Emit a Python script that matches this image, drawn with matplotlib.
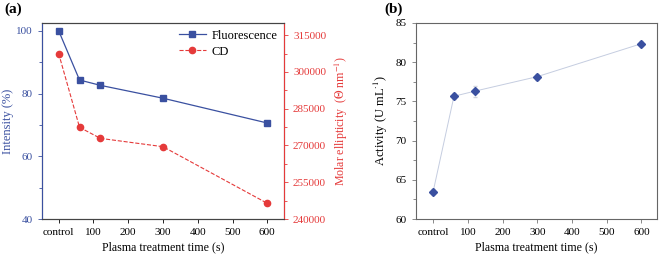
import matplotlib
matplotlib.use("Agg")
import matplotlib.pyplot as plt
from matplotlib.ticker import MultipleLocator

plt.rcParams['font.family'] = ['Liberation Serif', 'DejaVu Serif']
plt.rcParams['mathtext.fontset'] = 'stix'

time_s = [0, 60, 120, 300, 600]
xtick_pos = [0, 100, 200, 300, 400, 500, 600]
xtick_labels = ['control', '100', '200', '300', '400', '500', '600']
fluorescence = [100.0, 84.3, 82.6, 78.5, 70.6]
cd = [307500, 277400, 272900, 269500, 246400]
activity = [63.5, 75.65, 76.3, 78.15, 82.35]
activity_err = [0.3, 0.4, 0.7, 0.4, 0.3]

blue = '#3a50a0'
red = '#e53a3a'
spine_gray = '#444444'

fig = plt.figure(figsize=(6.6, 2.56), dpi=100)
ax1 = fig.add_axes([0.0636, 0.1445, 0.3667, 0.766])
ax2 = ax1.twinx()
ax3 = fig.add_axes([0.630, 0.1445, 0.3655, 0.766])

fs_tick = 8
fs_lab = 8.6

l1, = ax1.plot(time_s, fluorescence, color=blue, marker='s', ms=4.5, lw=0.9, label='Fluorescence')
l2, = ax2.plot(time_s, cd, color=red, marker='o', ms=4.5, lw=0.8, ls='--', label='CD')
ax1.set_xlim(-48, 648)
ax1.set_ylim(40, 102.5)
ax2.set_ylim(240000, 320000)
ax1.yaxis.set_major_locator(MultipleLocator(20))
ax1.yaxis.set_minor_locator(MultipleLocator(10))
ax2.yaxis.set_major_locator(MultipleLocator(15000))
ax2.yaxis.set_minor_locator(MultipleLocator(7500))
ax1.set_xticks(xtick_pos)
ax1.set_xticklabels(xtick_labels)
ax1.tick_params(axis='x', direction='out', length=3, width=0.6, labelsize=fs_tick, colors='black')
ax1.tick_params(axis='y', which='both', direction='out', width=0.6, labelsize=fs_tick, colors=blue)
ax1.tick_params(axis='y', which='major', length=3)
ax1.tick_params(axis='y', which='minor', length=2)
ax2.tick_params(axis='y', which='both', direction='out', width=0.6, labelsize=fs_tick, colors=red)
ax2.tick_params(axis='y', which='major', length=3)
ax2.tick_params(axis='y', which='minor', length=2)
ax1.set_ylabel('Intensity (%)', color=blue, fontsize=fs_lab + 0.4, labelpad=2)
ax2.set_ylabel(r'Molar ellipticity  ($\Theta$ nm$^{-1}$)', color=red, fontsize=fs_lab, labelpad=5)
ax1.set_xlabel('Plasma treatment time (s)', fontsize=fs_lab, labelpad=3)
for a in (ax1, ax2):
    for s in a.spines.values():
        s.set_linewidth(0.8)
        s.set_color(spine_gray)
ax2.spines['left'].set_color(blue)
ax2.spines['right'].set_color(red)
ax1.legend(handles=[l1, l2], loc='upper right', frameon=False, fontsize=fs_lab + 0.4,
           handlelength=2.2, handletextpad=0.4, borderaxespad=0.15, labelspacing=0.3)

ax3.errorbar(time_s, activity, yerr=activity_err, color='#c5cde0', lw=0.7,
             ecolor='#d0d4dc', elinewidth=0.6, capsize=1.5, zorder=1)
ax3.plot(time_s, activity, ls='none', marker='D', ms=4.5, color=blue, zorder=3)
ax3.set_xlim(-50, 645)
ax3.set_ylim(60, 85)
ax3.yaxis.set_major_locator(MultipleLocator(5))
ax3.yaxis.set_minor_locator(MultipleLocator(2.5))
ax3.set_xticks(xtick_pos)
ax3.set_xticklabels(xtick_labels)
ax3.tick_params(axis='both', which='both', direction='out', width=0.6, labelsize=fs_tick, color='#777777')
ax3.tick_params(axis='both', which='major', length=3)
ax3.tick_params(axis='y', which='minor', length=2)
ax3.set_ylabel(r'Activity (U mL$^{\cdot 1}$)', fontsize=fs_lab + 0.4, labelpad=4)
ax3.set_xlabel('Plasma treatment time (s)', fontsize=fs_lab, labelpad=3)
for s in ax3.spines.values():
    s.set_linewidth(0.8)
    s.set_color('#666666')

fig.text(0.006, 0.962, '(a)', fontsize=11, fontweight='bold', va='center', ha='left')
fig.text(0.583, 0.962, '(b)', fontsize=11, fontweight='bold', va='center', ha='left')

fig.savefig('out.png', dpi=100)
